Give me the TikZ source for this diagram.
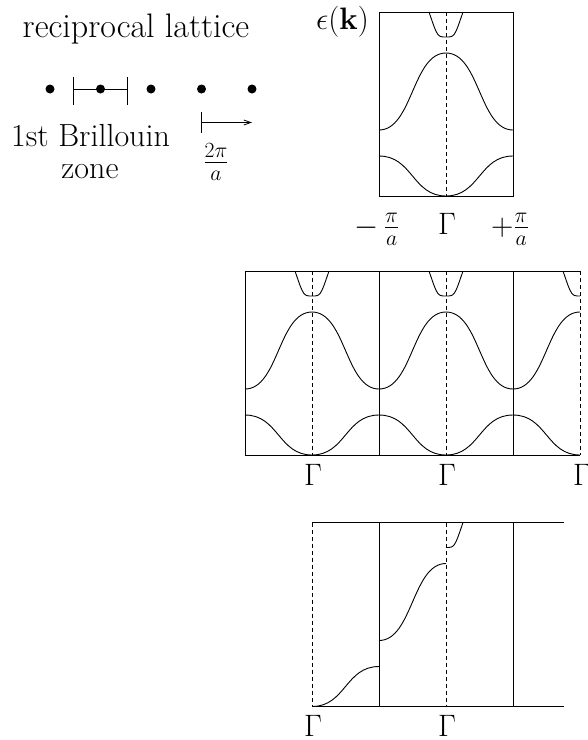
\RequirePackage{fix-cm}
\documentclass[tikz,border=0pt]{standalone}
\usetikzlibrary{arrows.meta}
\newcommand{\bandhalf}[4]{\draw[curve] (#1,#2) .. controls ({#1+0.5*(#3-(#1))},#2) and ({#3-0.5*(#3-(#1))},#4) .. (#3,#4);}
\newcommand{\parhalf}[4]{\draw[curve] (#1,#2) .. controls ({0.5*(#1+#3)},#2) .. (#3,#4);}
% left half of the three bands around Gamma at x=#1, frame top at y=#2
\newcommand{\leftbands}[2]{%
  \bandhalf{#1-67}{#2+144}{#1}{#2+184}
  \bandhalf{#1-67}{#2+118}{#1}{#2+41}
  \parhalf{#1}{#2+25}{#1-17}{#2}}
\newcommand{\rightbands}[2]{%
  \bandhalf{#1}{#2+184}{#1+67}{#2+144}
  \bandhalf{#1}{#2+41}{#1+67}{#2+118}
  \parhalf{#1}{#2+25}{#1+17}{#2}}
\begin{document}
\begin{tikzpicture}[x=1pt,y=-1pt,
  curve/.style={line width=0.9pt},
  frame/.style={line width=0.9pt},
  zoneline/.style={line width=0.8pt, dash pattern=on 4pt off 3pt},
  lbl/.style={font=\fontsize{31}{37}\selectfont, inner sep=0pt, anchor=base},
  dot/.style={circle, fill=black, inner sep=0pt, minimum size=9pt}]
\useasboundingbox (0,0) rectangle (588,740);

% ---------- reciprocal lattice ----------
\node[lbl, font=\fontsize{34}{40}\selectfont] (title) at (136,37) {reciprocal lattice};
\node[dot] (d1) at (50,89) {};
\node[dot] (d2) at (100.5,89) {};
\node[dot] (d3) at (151,89) {};
\node[dot] (d4) at (201.5,89) {};
\node[dot] (d5) at (252,89) {};
\coordinate (bzl) at (73.5,89);
\coordinate (bzr) at (127,89);
\draw[line width=0.8pt] ([yshift=12pt]bzl) -- ([yshift=-16pt]bzl);
\draw[line width=0.8pt] ([yshift=12pt]bzr) -- ([yshift=-16pt]bzr);
\draw[line width=0.8pt] (bzl) -- (bzr);
\node[lbl, font=\fontsize{32}{38}\selectfont] (bz1) at (90.5,146.5) {1st Brillouin};
\node[lbl, font=\fontsize{32}{38}\selectfont] (bz2) at (90,178) {zone};
\coordinate (as) at (201,122.5);
\coordinate (ae) at (252,122.5);
\draw[line width=0.8pt] ([yshift=10.5pt]as) -- ([yshift=-10.5pt]as);
\draw[line width=0.8pt, -{Straight Barb[length=7pt,width=5pt]}] (as) -- (ae);
\node[lbl] (twopia) at (216,170) {$\frac{2\pi}{a}$};

% ---------- reduced zone ----------
\node[lbl, anchor=base east] (eps) at (369,29) {$\epsilon(\mathbf{k})$};
\draw[frame] (379,12) rectangle (513,196);
\draw[zoneline] (446,12) -- (446,196);
\leftbands{446}{12}
\rightbands{446}{12}
\node[lbl] (kminus) at (377,235) {$-\,\frac{\pi}{a}$};
\node[lbl] (g0) at (447,234) {$\Gamma$};
\node[lbl] (kplus) at (510,235) {$+\frac{\pi}{a}$};

% ---------- repeated zone ----------
\draw[frame] (245,271) -- (580,271);
\draw[frame] (245,455) -- (580,455);
\draw[frame] (245,271) -- (245,455);
\draw[frame] (379,271) -- (379,455);
\draw[frame] (513,271) -- (513,455);
\draw[zoneline] (312,271) -- (312,455);
\draw[zoneline] (446,271) -- (446,455);
\draw[zoneline] (580,271) -- (580,455);
\leftbands{312}{271}
\rightbands{312}{271}
\leftbands{446}{271}
\rightbands{446}{271}
\leftbands{580}{271}
\node[lbl] (g1) at (313,485) {$\Gamma$};
\node[lbl] (g2) at (447,485) {$\Gamma$};
\node[lbl] (g3) at (582,485) {$\Gamma$};

% ---------- extended zone ----------
\draw[frame] (312,522.5) -- (564,522.5);
\draw[frame] (312,706.5) -- (564,706.5);
\draw[frame] (379,522.5) -- (379,706.5);
\draw[frame] (513,522.5) -- (513,706.5);
\draw[zoneline] (312,522.5) -- (312,706.5);
\draw[zoneline] (446,522.5) -- (446,706.5);
\bandhalf{312}{706.5}{379}{666.5}
\bandhalf{379}{640.5}{446}{563.5}
\parhalf{446}{547.5}{463}{522.5}
\node[lbl] (g4) at (313,736) {$\Gamma$};
\node[lbl] (g5) at (447,736) {$\Gamma$};
\end{tikzpicture}
\end{document}
